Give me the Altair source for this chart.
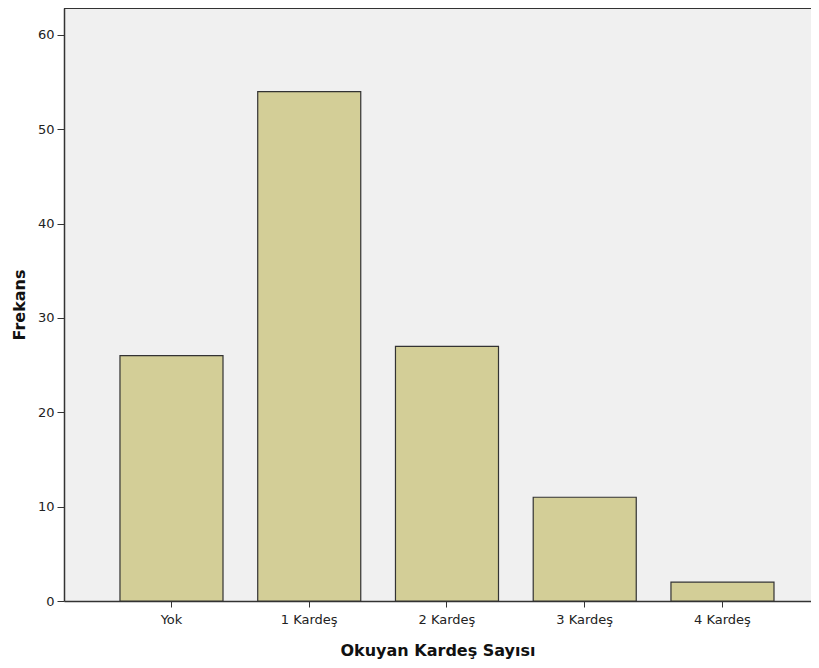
import altair as alt
import pandas as pd

categories = ["Yok", "1 Kardeş", "2 Kardeş", "3 Kardeş", "4 Kardeş"]
counts = [26, 54, 27, 11, 2]
y_ticks = [0, 10, 20, 30, 40, 50, 60]

df = pd.DataFrame({"cat": categories, "n": counts})

FONT = "DejaVu Sans"
W, H = 747, 593

bars = alt.Chart(df).mark_bar(
    color="#d3ce97", stroke="#333333", strokeWidth=1.2
).encode(
    x=alt.X("cat:N", sort=categories, title="Okuyan Kardeş Sayısı",
            scale=alt.Scale(paddingInner=0.252, paddingOuter=0.3375, align=0.602),
            axis=alt.Axis(labelAngle=0, labelFont=FONT, labelFontSize=13, labelColor="#222222",
                          titleFont=FONT, titleFontSize=16, titleFontWeight="bold", titleColor="#111111",
                          tickSize=6, tickColor="#333333", domainColor="#333333", domainWidth=1.5,
                          labelPadding=6, titlePadding=16)),
    y=alt.Y("n:Q", title="Frekans",
            scale=alt.Scale(domain=[0, 62.86], nice=False, zero=True),
            axis=alt.Axis(values=y_ticks, grid=False, labelFont=FONT, labelFontSize=13,
                          labelColor="#222222", titleFont=FONT, titleFontSize=16,
                          titleFontWeight="bold", titleColor="#111111", tickSize=7,
                          tickColor="#333333", domainColor="#333333", domainWidth=1.5,
                          labelPadding=3, titlePadding=10))
)

top_border = alt.Chart(df).mark_rule(color="#333333", strokeWidth=1.5).encode(
    x=alt.value(0), x2=alt.value(W), y=alt.value(0)
)

chart = alt.layer(bars, top_border).properties(
    width=W, height=H,
    autosize=alt.AutoSizeParams(type="none"),
    padding={"left": 56, "top": 0, "right": 0, "bottom": 63},
    background="white"
).configure_view(
    fill="#f0f0f0", stroke=None
)

chart.save("out.html", embed_options={"renderer": "svg", "actions": False})
